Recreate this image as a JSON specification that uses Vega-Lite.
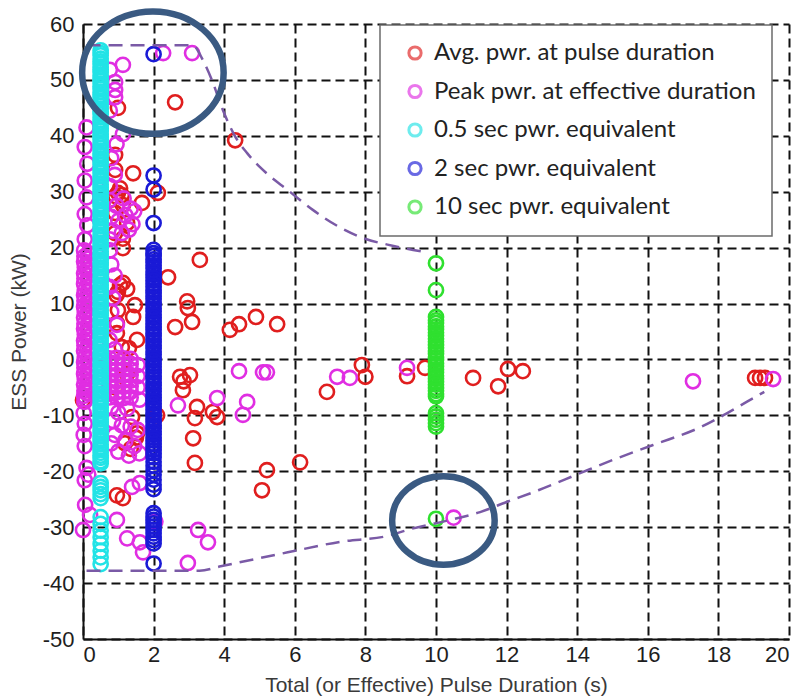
{
  "$schema": "https://vega.github.io/schema/vega-lite/v6.json",
  "width": 706,
  "height": 615,
  "autosize": {"type": "none"},
  "padding": {"left": 83, "top": 24, "right": 12, "bottom": 59},
  "background": "white",
  "config": {
    "view": {"stroke": null},
    "axis": {
      "grid": true,
      "gridColor": "#111111",
      "gridDash": [9, 5],
      "gridWidth": 2,
      "gridOpacity": 1,
      "domainColor": "#111111",
      "domainWidth": 2,
      "ticks": false,
      "labelFont": "Liberation Sans Narrow, Liberation Sans",
      "labelFontSize": 22,
      "labelColor": "#1e1e1e",
      "titleFont": "Liberation Sans",
      "titleFontSize": 21,
      "titleFontWeight": "normal",
      "titleColor": "#3a3a3a"
    },
    "legend": {
      "orient": "none",
      "legendX": 297,
      "legendY": 1,
      "symbolType": "circle",
      "symbolSize": 150,
      "symbolStrokeWidth": 3,
      "symbolOpacity": 0.65,
      "labelFont": "Lato",
      "labelFontSize": 24,
      "labelColor": "#222222",
      "labelLimit": 0,
      "padding": 16,
      "rowPadding": 12.5,
      "symbolOffset": 7,
      "labelOffset": 7,
      "strokeColor": "#6b6b6b",
      "strokeWidth": 1.5,
      "fillColor": "white"
    }
  },
  "datasets": {
    "avg": [
      {"t":0.0,"p":-7.3},{"t":2.61,"p":46.0},{"t":4.31,"p":39.2},{"t":0.99,"p":45.0},{"t":0.91,"p":36.6},{"t":0.91,"p":33.9},{"t":1.42,"p":33.3},{"t":2.12,"p":29.8},{"t":1.67,"p":28.0},{"t":0.99,"p":29.8},{"t":1.05,"p":30.6},{"t":0.92,"p":29.2},{"t":1.1,"p":29.4},{"t":0.91,"p":26.2},{"t":1.13,"p":27.6},{"t":0.91,"p":22.6},{"t":1.25,"p":24.4},{"t":1.13,"p":21.6},{"t":1.13,"p":19.9},{"t":3.31,"p":17.8},{"t":2.41,"p":14.7},{"t":1.05,"p":13.3},{"t":1.25,"p":12.6},{"t":0.95,"p":11.5},{"t":0.99,"p":12.1},{"t":1.13,"p":13.7},{"t":2.95,"p":10.4},{"t":2.97,"p":9.2},{"t":0.99,"p":8.8},{"t":1.47,"p":9.7},{"t":1.42,"p":7.6},{"t":2.61,"p":5.8},{"t":3.09,"p":6.7},{"t":4.16,"p":5.3},{"t":4.42,"p":6.3},{"t":4.9,"p":7.6},{"t":5.5,"p":6.3},{"t":0.96,"p":6.5},{"t":0.96,"p":4.7},{"t":1.53,"p":3.5},{"t":1.1,"p":2.2},{"t":1.3,"p":2.0},{"t":1.25,"p":-2.6},{"t":0.91,"p":-5.0},{"t":2.75,"p":-3.1},{"t":2.85,"p":-3.9},{"t":2.83,"p":-5.5},{"t":3.03,"p":-2.8},{"t":3.23,"p":-8.5},{"t":3.17,"p":-10.5},{"t":3.68,"p":-9.4},{"t":3.8,"p":-10.3},{"t":3.12,"p":-14.1},{"t":3.17,"p":-18.5},{"t":5.21,"p":-19.8},{"t":5.07,"p":-23.4},{"t":6.15,"p":-18.4},{"t":6.91,"p":-5.8},{"t":7.9,"p":-1.0},{"t":8.0,"p":-3.1},{"t":9.18,"p":-3.0},{"t":9.69,"p":-1.5},{"t":11.05,"p":-3.3},{"t":11.76,"p":-4.8},{"t":12.04,"p":-1.7},{"t":12.46,"p":-2.1},{"t":19.04,"p":-3.3},{"t":19.18,"p":-3.3},{"t":19.32,"p":-3.3},{"t":1.39,"p":-10.3},{"t":1.53,"p":-13.2},{"t":1.19,"p":-15.0},{"t":1.5,"p":-14.0},{"t":0.96,"p":-24.3},{"t":1.13,"p":-24.8},{"t":2.1,"p":-10.0},{"t":1.35,"p":-16.0}
    ],
    "peak": [
      {"t":3.09,"p":54.8},{"t":2.27,"p":54.8},{"t":1.13,"p":52.7},{"t":0.76,"p":51.8},{"t":0.91,"p":49.6},{"t":0.91,"p":48.2},{"t":0.91,"p":46.9},{"t":0.76,"p":44.5},{"t":1.13,"p":40.3},{"t":0.95,"p":38.5},{"t":0.8,"p":36.0},{"t":0.9,"p":33.0},{"t":0.76,"p":31.0},
      {"t":0.75,"p":28.5},{"t":0.95,"p":27.5},{"t":1.15,"p":28.8},{"t":1.35,"p":27.0},{"t":0.8,"p":25.5},{"t":1.0,"p":24.8},{"t":1.2,"p":25.8},{"t":1.4,"p":24.2},{"t":0.85,"p":23.0},{"t":1.1,"p":22.6},{"t":1.3,"p":23.2},{"t":0.75,"p":21.5},{"t":1.45,"p":26.5},{"t":0.76,"p":19.5},{"t":0.8,"p":17.0},{"t":0.9,"p":15.0},{"t":0.75,"p":13.0},{"t":0.85,"p":11.0},{"t":0.8,"p":8.5},{"t":0.96,"p":6.2},{"t":0.75,"p":3.5},{"t":0.9,"p":1.8},
      {"t":0.1,"p":41.5},{"t":0.05,"p":38.0},{"t":0.12,"p":35.0},{"t":0.05,"p":32.0},{"t":0.1,"p":29.0},{"t":0.05,"p":26.0},{"t":0.12,"p":24.0},{"t":0.05,"p":21.5},
      {"t":0.03,"p":19.5},{"t":0.15,"p":19.0},{"t":0.04,"p":18.4},{"t":0.14,"p":18.0},{"t":0.03,"p":17.5},{"t":0.15,"p":16.9},{"t":0.05,"p":16.5},{"t":0.13,"p":16.0},{"t":0.03,"p":15.4},{"t":0.15,"p":15.0},{"t":0.04,"p":14.5},{"t":0.14,"p":13.9},{"t":0.03,"p":13.5},{"t":0.16,"p":13.0},{"t":0.05,"p":12.4},{"t":0.14,"p":12.0},{"t":0.03,"p":11.5},{"t":0.15,"p":10.9},{"t":0.04,"p":10.5},{"t":0.14,"p":10.0},{"t":0.03,"p":9.4},{"t":0.15,"p":9.0},{"t":0.05,"p":8.5},{"t":0.13,"p":7.9},{"t":0.03,"p":7.5},{"t":0.16,"p":7.0},{"t":0.04,"p":6.4},{"t":0.14,"p":6.0},{"t":0.03,"p":5.5},{"t":0.15,"p":4.9},{"t":0.05,"p":4.5},{"t":0.14,"p":4.0},{"t":0.03,"p":3.4},{"t":0.15,"p":3.0},{"t":0.04,"p":2.5},{"t":0.13,"p":1.9},{"t":0.03,"p":1.5},{"t":0.16,"p":1.0},{"t":0.05,"p":0.4},{"t":0.14,"p":0.0},{"t":0.03,"p":-0.5},{"t":0.15,"p":-1.1},{"t":0.04,"p":-1.5},{"t":0.14,"p":-2.0},{"t":0.03,"p":-2.6},{"t":0.15,"p":-3.0},{"t":0.05,"p":-3.5},{"t":0.13,"p":-4.1},{"t":0.03,"p":-4.5},{"t":0.12,"p":-5.0},{"t":0.04,"p":-5.6},{"t":0.1,"p":-6.0},{"t":0.03,"p":-6.5},{"t":0.08,"p":-7.1},{"t":0.04,"p":-7.6},
      {"t":0.02,"p":-9.6},{"t":0.05,"p":-11.5},{"t":0.02,"p":-13.5},{"t":0.05,"p":-15.5},{"t":0.1,"p":-19.4},{"t":0.15,"p":-20.6},{"t":0.05,"p":-21.6},{"t":0.06,"p":-26.0},{"t":0.0,"p":-30.5},{"t":0.2,"p":-27.8},
      {"t":0.75,"p":0.2},{"t":0.95,"p":0.3},{"t":1.15,"p":0.2},{"t":1.35,"p":0.1},
      {"t":0.75,"p":-0.8},{"t":0.95,"p":-0.8},{"t":1.15,"p":-0.9},{"t":1.35,"p":-0.8},
      {"t":0.75,"p":-1.8},{"t":0.95,"p":-1.9},{"t":1.15,"p":-1.8},{"t":1.35,"p":-1.8},
      {"t":0.75,"p":-2.8},{"t":0.95,"p":-2.8},{"t":1.15,"p":-2.9},{"t":1.35,"p":-2.8},
      {"t":0.75,"p":-3.8},{"t":0.95,"p":-3.9},{"t":1.15,"p":-3.8},{"t":1.35,"p":-3.8},
      {"t":0.75,"p":-4.8},{"t":0.95,"p":-4.8},{"t":1.15,"p":-4.9},{"t":1.35,"p":-4.8},
      {"t":0.75,"p":-5.8},{"t":0.95,"p":-5.9},{"t":1.15,"p":-5.8},{"t":1.35,"p":-5.8},
      {"t":0.75,"p":-6.8},{"t":0.95,"p":-6.8},{"t":1.15,"p":-6.9},{"t":1.35,"p":-6.8},
      {"t":1.55,"p":-1.0},{"t":1.55,"p":-3.0},{"t":1.55,"p":-5.0},{"t":1.6,"p":-7.2},
      {"t":0.8,"p":-8.5},{"t":1.0,"p":-9.5},{"t":1.25,"p":-8.8},{"t":0.85,"p":-11.0},{"t":1.1,"p":-11.8},{"t":1.35,"p":-12.0},{"t":0.9,"p":-13.5},{"t":1.2,"p":-14.5},{"t":1.45,"p":-15.5},{"t":1.0,"p":-16.5},{"t":1.3,"p":-17.2},{"t":1.55,"p":-12.6},{"t":1.6,"p":-16.8},{"t":0.8,"p":-15.0},
      {"t":1.39,"p":-22.8},{"t":1.61,"p":-22.1},{"t":0.96,"p":-28.7},{"t":1.25,"p":-32.0},{"t":1.61,"p":-32.7},{"t":1.7,"p":-34.5},{"t":2.05,"p":-29.0},{"t":3.26,"p":-30.5},{"t":3.54,"p":-32.7},{"t":2.97,"p":-36.4},{"t":10.5,"p":-28.3},{"t":2.69,"p":-8.2},{"t":3.8,"p":-6.9},{"t":4.65,"p":-7.6},{"t":4.53,"p":-9.9},{"t":4.42,"p":-2.1},{"t":5.1,"p":-2.3},{"t":5.21,"p":-2.3},{"t":7.2,"p":-3.1},{"t":7.56,"p":-3.3},{"t":9.18,"p":-1.5},{"t":17.28,"p":-3.9},{"t":19.55,"p":-3.5}
    ],
    "half": [
      {"t":0.5,"p":55.3},{"t":0.5,"p":54.8},{"t":0.5,"p":54.4},{"t":0.5,"p":53.8},{"t":0.5,"p":53.3},{"t":0.5,"p":52.9},{"t":0.5,"p":52.3},{"t":0.5,"p":51.8},{"t":0.5,"p":51.4},{"t":0.5,"p":50.8},{"t":0.5,"p":50.3},{"t":0.5,"p":49.9},{"t":0.5,"p":49.3},{"t":0.5,"p":48.8},{"t":0.5,"p":48.4},{"t":0.5,"p":47.8},{"t":0.5,"p":47.3},{"t":0.5,"p":46.9},{"t":0.5,"p":46.3},{"t":0.5,"p":45.8},{"t":0.5,"p":45.4},{"t":0.5,"p":44.8},{"t":0.5,"p":44.3},{"t":0.5,"p":43.9},{"t":0.5,"p":43.3},{"t":0.5,"p":42.8},{"t":0.5,"p":42.4},{"t":0.5,"p":41.8},{"t":0.5,"p":41.3},{"t":0.5,"p":40.9},{"t":0.5,"p":40.3},{"t":0.5,"p":39.8},{"t":0.5,"p":39.4},{"t":0.5,"p":38.8},{"t":0.5,"p":38.3},{"t":0.5,"p":37.9},{"t":0.5,"p":37.3},{"t":0.5,"p":36.8},{"t":0.5,"p":36.4},{"t":0.5,"p":35.8},{"t":0.5,"p":35.3},{"t":0.5,"p":34.9},{"t":0.5,"p":34.3},{"t":0.5,"p":33.8},{"t":0.5,"p":33.4},{"t":0.5,"p":32.8},{"t":0.5,"p":32.3},{"t":0.5,"p":31.9},{"t":0.5,"p":31.3},{"t":0.5,"p":30.8},{"t":0.5,"p":30.4},{"t":0.5,"p":29.8},{"t":0.5,"p":29.3},{"t":0.5,"p":28.9},{"t":0.5,"p":28.3},{"t":0.5,"p":27.8},{"t":0.5,"p":27.4},{"t":0.5,"p":26.8},{"t":0.5,"p":26.3},{"t":0.5,"p":25.9},{"t":0.5,"p":25.3},{"t":0.5,"p":24.8},{"t":0.5,"p":24.4},{"t":0.5,"p":23.8},{"t":0.5,"p":23.3},{"t":0.5,"p":22.9},{"t":0.5,"p":22.3},{"t":0.5,"p":21.8},{"t":0.5,"p":21.4},{"t":0.5,"p":20.8},{"t":0.5,"p":20.3},{"t":0.5,"p":19.9},{"t":0.5,"p":19.3},{"t":0.5,"p":18.8},{"t":0.5,"p":18.4},{"t":0.5,"p":17.8},{"t":0.5,"p":17.3},{"t":0.5,"p":16.9},{"t":0.5,"p":16.3},{"t":0.5,"p":15.8},{"t":0.5,"p":15.4},{"t":0.5,"p":14.8},{"t":0.5,"p":14.3},{"t":0.5,"p":13.9},{"t":0.5,"p":13.3},{"t":0.5,"p":12.8},{"t":0.5,"p":12.4},{"t":0.5,"p":11.8},{"t":0.5,"p":11.3},{"t":0.5,"p":10.9},{"t":0.5,"p":10.3},{"t":0.5,"p":9.8},{"t":0.5,"p":9.4},{"t":0.5,"p":8.8},{"t":0.5,"p":8.3},{"t":0.5,"p":7.9},{"t":0.5,"p":7.3},{"t":0.5,"p":6.8},{"t":0.5,"p":6.4},{"t":0.5,"p":5.8},{"t":0.5,"p":5.3},{"t":0.5,"p":4.9},{"t":0.5,"p":4.3},{"t":0.5,"p":3.8},{"t":0.5,"p":3.4},{"t":0.5,"p":2.8},{"t":0.5,"p":2.3},{"t":0.5,"p":1.9},{"t":0.5,"p":1.3},{"t":0.5,"p":0.8},{"t":0.5,"p":0.4},{"t":0.5,"p":-0.2},{"t":0.5,"p":-0.7},{"t":0.5,"p":-1.1},{"t":0.5,"p":-1.7},{"t":0.5,"p":-2.2},{"t":0.5,"p":-2.6},{"t":0.5,"p":-3.2},{"t":0.5,"p":-3.7},{"t":0.5,"p":-4.1},{"t":0.5,"p":-4.7},{"t":0.5,"p":-5.2},{"t":0.5,"p":-5.6},{"t":0.5,"p":-6.2},{"t":0.5,"p":-6.7},{"t":0.5,"p":-7.1},{"t":0.5,"p":-7.7},{"t":0.5,"p":-8.2},{"t":0.5,"p":-8.6},{"t":0.5,"p":-9.2},{"t":0.5,"p":-9.7},{"t":0.5,"p":-10.1},{"t":0.5,"p":-10.7},{"t":0.5,"p":-11.2},{"t":0.5,"p":-11.6},{"t":0.5,"p":-12.2},{"t":0.5,"p":-12.7},{"t":0.5,"p":-13.1},{"t":0.5,"p":-13.7},{"t":0.5,"p":-14.2},{"t":0.5,"p":-14.6},{"t":0.5,"p":-15.2},{"t":0.5,"p":-15.7},{"t":0.5,"p":-16.1},{"t":0.5,"p":-16.7},{"t":0.5,"p":-17.2},{"t":0.5,"p":-17.6},{"t":0.5,"p":-18.2},{"t":0.5,"p":-18.6},
      {"t":0.5,"p":-22.1},{"t":0.5,"p":-22.8},{"t":0.5,"p":-23.4},{"t":0.5,"p":-24.1},{"t":0.5,"p":-24.8},
      {"t":0.5,"p":-28.2},{"t":0.5,"p":-29.4},{"t":0.5,"p":-30.6},{"t":0.5,"p":-31.8},{"t":0.5,"p":-33.0},{"t":0.5,"p":-34.2},{"t":0.5,"p":-35.4},{"t":0.5,"p":-36.6}
    ],
    "two": [
      {"t":2,"p":54.6},{"t":2,"p":32.9},{"t":2,"p":30.4},{"t":2,"p":24.4},
      {"t":2,"p":19.6},{"t":2,"p":19.0},{"t":2,"p":18.5},{"t":2,"p":17.9},{"t":2,"p":17.4},{"t":2,"p":16.8},{"t":2,"p":16.3},{"t":2,"p":15.7},{"t":2,"p":15.2},{"t":2,"p":14.6},{"t":2,"p":14.1},{"t":2,"p":13.5},{"t":2,"p":13.0},{"t":2,"p":12.4},{"t":2,"p":11.9},{"t":2,"p":11.3},{"t":2,"p":10.8},{"t":2,"p":10.2},{"t":2,"p":9.7},{"t":2,"p":9.1},{"t":2,"p":8.6},{"t":2,"p":8.0},{"t":2,"p":7.5},{"t":2,"p":6.9},{"t":2,"p":6.4},{"t":2,"p":5.8},{"t":2,"p":5.3},{"t":2,"p":4.7},{"t":2,"p":4.2},{"t":2,"p":3.6},{"t":2,"p":3.1},{"t":2,"p":2.5},{"t":2,"p":2.0},{"t":2,"p":1.4},{"t":2,"p":0.9},{"t":2,"p":0.3},{"t":2,"p":-0.2},{"t":2,"p":-0.8},{"t":2,"p":-1.3},{"t":2,"p":-1.9},{"t":2,"p":-2.4},{"t":2,"p":-3.0},{"t":2,"p":-3.5},{"t":2,"p":-4.1},{"t":2,"p":-4.6},{"t":2,"p":-5.2},{"t":2,"p":-5.7},{"t":2,"p":-6.3},{"t":2,"p":-6.8},{"t":2,"p":-7.4},{"t":2,"p":-7.9},{"t":2,"p":-8.5},{"t":2,"p":-9.0},{"t":2,"p":-9.6},{"t":2,"p":-10.1},{"t":2,"p":-10.7},{"t":2,"p":-11.2},{"t":2,"p":-11.8},{"t":2,"p":-12.3},{"t":2,"p":-12.9},{"t":2,"p":-13.4},{"t":2,"p":-14.0},{"t":2,"p":-14.5},{"t":2,"p":-15.1},{"t":2,"p":-15.6},{"t":2,"p":-16.2},{"t":2,"p":-16.8},{"t":2,"p":-17.5},{"t":2,"p":-18.3},{"t":2,"p":-19.0},{"t":2,"p":-19.8},{"t":2,"p":-20.6},{"t":2,"p":-21.5},{"t":2,"p":-22.4},{"t":2,"p":-23.2},
      {"t":2,"p":-27.5},{"t":2,"p":-28.1},{"t":2,"p":-28.7},{"t":2,"p":-29.3},{"t":2,"p":-29.9},{"t":2,"p":-30.5},{"t":2,"p":-31.1},{"t":2,"p":-31.7},{"t":2,"p":-32.3},{"t":2,"p":-32.9},{"t":2,"p":-36.5}
    ],
    "ten": [
      {"t":10,"p":17.2},{"t":10,"p":12.4},
      {"t":10,"p":7.6},{"t":10,"p":7.0},{"t":10,"p":6.5},{"t":10,"p":5.9},{"t":10,"p":5.4},{"t":10,"p":4.8},{"t":10,"p":4.3},{"t":10,"p":3.7},{"t":10,"p":3.2},{"t":10,"p":2.6},{"t":10,"p":2.1},{"t":10,"p":1.5},{"t":10,"p":1.0},{"t":10,"p":0.4},{"t":10,"p":-0.1},{"t":10,"p":-0.7},{"t":10,"p":-1.2},{"t":10,"p":-1.8},{"t":10,"p":-2.3},{"t":10,"p":-2.9},{"t":10,"p":-3.4},{"t":10,"p":-4.0},{"t":10,"p":-4.5},{"t":10,"p":-5.1},{"t":10,"p":-5.6},{"t":10,"p":-6.2},{"t":10,"p":-6.6},
      {"t":10,"p":-9.6},{"t":10,"p":-10.2},{"t":10,"p":-10.8},{"t":10,"p":-11.4},{"t":10,"p":-12.0},
      {"t":10,"p":-28.5}
    ],
    "upper": [
      {"t":0.1,"p":56.2},{"t":3.1,"p":56.2},{"t":3.4,"p":53.5},{"t":3.65,"p":50.0},{"t":3.95,"p":44.8},{"t":4.3,"p":40.0},{"t":4.65,"p":36.9},{"t":5.2,"p":33.3},{"t":5.8,"p":30.3},{"t":6.5,"p":26.8},{"t":7.2,"p":23.9},{"t":7.9,"p":21.8},{"t":8.8,"p":20.3},{"t":9.7,"p":19.2}
    ],
    "lower": [
      {"t":0.1,"p":-37.8},{"t":3.3,"p":-37.8},{"t":3.9,"p":-37.0},{"t":5.8,"p":-34.5},{"t":7.3,"p":-32.6},{"t":8.6,"p":-31.6},{"t":9.3,"p":-30.3},{"t":10.2,"p":-29.0},{"t":11.25,"p":-27.3},{"t":12.0,"p":-25.5},{"t":12.9,"p":-23.4},{"t":14.1,"p":-20.3},{"t":15.0,"p":-18.0},{"t":16.15,"p":-15.3},{"t":17.5,"p":-12.1},{"t":18.8,"p":-7.6},{"t":19.3,"p":-5.8}
    ],
    "ringPeak": [{"t":1.98,"p":51.3}],
    "ringTen": [{"t":10.21,"p":-28.8}]
  },
  "encoding": {
    "x": {
      "field": "t",
      "type": "quantitative",
      "scale": {"domain": [0, 20], "nice": false, "zero": false},
      "axis": {
        "values": [0, 2, 4, 6, 8, 10, 12, 14, 16, 18, 20],
        "labelExpr": "'' + datum.value",
        "labelPadding": 5,
        "title": "Total (or Effective) Pulse Duration (s)",
        "titlePadding": 9
      }
    },
    "y": {
      "field": "p",
      "type": "quantitative",
      "scale": {"domain": [-50, 60], "nice": false, "zero": false},
      "axis": {
        "values": [-50, -40, -30, -20, -10, 0, 10, 20, 30, 40, 50, 60],
        "labelExpr": "'' + datum.value",
        "labelPadding": 9,
        "title": "ESS Power (kW)",
        "titlePadding": 13
      }
    }
  },
  "layer": [
    {
      "data": {"name": "avg"},
      "mark": {"type": "point", "filled": false, "size": 200, "strokeWidth": 2.6, "opacity": 1},
      "encoding": {
        "color": {
          "datum": "Avg. pwr. at pulse duration",
          "type": "nominal",
          "scale": {
            "domain": ["Avg. pwr. at pulse duration", "Peak pwr. at effective duration", "0.5 sec pwr. equivalent", "2 sec pwr. equivalent", "10 sec pwr. equivalent"],
            "range": ["#e01e1e", "#e02ee2", "#22e3e6", "#1a1ad6", "#2fe02f"]
          },
          "legend": {"title": null, "orient": "none", "legendX": 297, "legendY": 1}
        }
      }
    },
    {
      "data": {"name": "peak"},
      "mark": {"type": "point", "filled": false, "size": 200, "strokeWidth": 2.6, "opacity": 1},
      "encoding": {"color": {"datum": "Peak pwr. at effective duration", "type": "nominal"}}
    },
    {
      "data": {"name": "half"},
      "mark": {"type": "point", "filled": false, "size": 200, "strokeWidth": 2.6, "opacity": 1},
      "encoding": {"color": {"datum": "0.5 sec pwr. equivalent", "type": "nominal"}}
    },
    {
      "data": {"name": "two"},
      "mark": {"type": "point", "filled": false, "size": 200, "strokeWidth": 2.6, "opacity": 1},
      "encoding": {"color": {"datum": "2 sec pwr. equivalent", "type": "nominal"}}
    },
    {
      "data": {"name": "ten"},
      "mark": {"type": "point", "filled": false, "size": 200, "strokeWidth": 2.6, "opacity": 1},
      "encoding": {"color": {"datum": "10 sec pwr. equivalent", "type": "nominal"}}
    },
    {
      "data": {"name": "upper"},
      "mark": {"type": "line", "color": "#7a5aa6", "strokeWidth": 2.5, "strokeDash": [14, 8], "interpolate": "monotone"},
      "encoding": {}
    },
    {
      "data": {"name": "lower"},
      "mark": {"type": "line", "color": "#7a5aa6", "strokeWidth": 2.5, "strokeDash": [14, 8], "interpolate": "monotone"},
      "encoding": {}
    },
    {
      "data": {"name": "ringPeak"},
      "mark": {
        "type": "point",
        "shape": "M 1 0 C 1 0.478 0.552 0.865 0 0.865 C -0.552 0.865 -1 0.478 -1 0 C -1 -0.478 -0.552 -0.865 0 -0.865 C 0.552 -0.865 1 -0.478 1 0 Z",
        "size": 20022,
        "filled": false,
        "color": "#3a5a82",
        "strokeWidth": 6.5,
        "opacity": 1
      },
      "encoding": {}
    },
    {
      "data": {"name": "ringTen"},
      "mark": {
        "type": "point",
        "shape": "M 1 0 C 1 0.478 0.552 0.865 0 0.865 C -0.552 0.865 -1 0.478 -1 0 C -1 -0.478 -0.552 -0.865 0 -0.865 C 0.552 -0.865 1 -0.478 1 0 Z",
        "size": 10506,
        "filled": false,
        "color": "#3a5a82",
        "strokeWidth": 6.5,
        "opacity": 1
      },
      "encoding": {}
    }
  ]
}
